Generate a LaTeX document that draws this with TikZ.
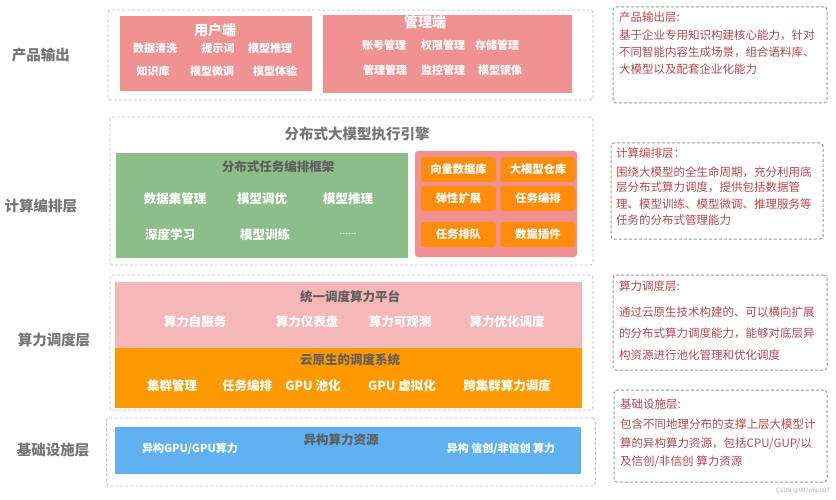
\documentclass[tikz,border=0pt]{standalone}
\usepackage{fontspec}
\setmainfont{Noto Sans CJK SC}
\definecolor{lav}{HTML}{B9B9E6}
\definecolor{graydash}{HTML}{999999}
\definecolor{salmon}{HTML}{F09292}
\definecolor{greenbox}{HTML}{8CBE8A}
\definecolor{orangesm}{HTML}{FF8C0A}
\definecolor{lightpink}{HTML}{F5B7B7}
\definecolor{orangebig}{HTML}{FF9900}
\definecolor{bluebox}{HTML}{60B1F1}
\definecolor{darkred}{HTML}{B5484C}
\definecolor{labelgray}{HTML}{767676}
\definecolor{titlegray}{HTML}{5E5E5E}
\definecolor{wmgray}{HTML}{B0B0B0}
\tikzset{
  layerbox/.style={draw=lav, dash pattern=on 3pt off 2pt, line width=0.8pt, rounded corners=3pt, inner sep=0pt},
  notebox/.style={draw=graydash, dash pattern=on 3pt off 2pt, line width=1pt, rounded corners=3pt, inner sep=0pt},
  fillbox/.style={fill=#1, inner sep=0pt},
  smallbox/.style={fill=orangesm, rounded corners=3pt, minimum width=75pt, minimum height=25pt, inner sep=0pt, text=white, font=\bfseries\fontsize{11.3}{12}\selectfont},
  item/.style={text=white, inner sep=0pt, font=\bfseries\fontsize{11}{12}\selectfont},
  bigitem/.style={text=white, inner sep=0pt, font=\bfseries\fontsize{12.5}{13}\selectfont},
  whitetitle/.style={text=white, inner sep=0pt, font=\bfseries\fontsize{14}{15}\selectfont},
  graytitle/.style={text=titlegray, inner sep=0pt, font=\bfseries\fontsize{12.5}{13}\selectfont},
  layerlabel/.style={text=labelgray, inner sep=0pt, font=\bfseries\fontsize{14.5}{15}\selectfont},
  noteline/.style={text=darkred, inner sep=0pt, anchor=west, font=\fontsize{11.5}{12}\selectfont},
}
\begin{document}
\begin{tikzpicture}[x=1pt,y=-1pt]
\useasboundingbox (0,0) rectangle (836,500);
\fill[white] (0,0) rectangle (836,500);

% ---------- left labels
\node[layerlabel] (l1) at (41,55) {产品输出};
\node[layerlabel] (l2) at (41,206) {计算编排层};
\node[layerlabel] (l3) at (54,340) {算力调度层};
\node[layerlabel] (l4) at (53,450) {基础设施层};

% ---------- layer 1
\node[layerbox, minimum width=485pt, minimum height=90pt] (L1) at (350.5,55) {};
\node[fillbox=salmon, minimum width=192pt, minimum height=75pt] (user) at (216,53.5) {};
\node[whitetitle] (usert) at (215,30) {用户端};
\node[item] (u1) at (155,48) {数据清洗};
\node[item] (u2) at (218,48) {提示词};
\node[item] (u3) at (270,48) {模型推理};
\node[item] (u4) at (153,71) {知识库};
\node[item] (u5) at (212,71) {模型微调};
\node[item] (u6) at (275,71) {模型体验};

\node[fillbox=salmon, minimum width=249pt, minimum height=78pt] (mgmt) at (447.5,54) {};
\node[whitetitle] (mgmtt) at (425,22) {管理端};
\node[item] (m1) at (384,45) {账号管理};
\node[item] (m2) at (443,45) {权限管理};
\node[item] (m3) at (497,45) {存储管理};
\node[item] (m4) at (385,70) {管理管理};
\node[item] (m5) at (443,70) {监控管理};
\node[item] (m6) at (500,70) {模型镜像};

% ---------- layer 2
\node[layerbox, minimum width=483pt, minimum height=148pt] (L2) at (351.5,191) {};
\node[text=labelgray, inner sep=0pt, font=\bfseries\fontsize{14.5}{15}\selectfont] (L2t) at (357,134) {分布式大模型执行引擎};
\node[fillbox=greenbox, minimum width=292pt, minimum height=105pt] (green) at (262,205.5) {};
\node[graytitle] (greent) at (278,167) {分布式任务编排框架};
\node[bigitem] (g1) at (175,199) {数据集管理};
\node[bigitem] (g2) at (262,199) {模型调优};
\node[bigitem] (g3) at (348,199) {模型推理};
\node[bigitem] (g4) at (170,235) {深度学习};
\node[bigitem] (g5) at (265,235) {模型训练};
\node[text=white, inner sep=0pt, font=\fontsize{10}{10}\selectfont] (g6) at (348,234) {......};

\node[fill=salmon, rounded corners=3pt, minimum width=162pt, minimum height=106pt, inner sep=0pt] (pinkbox) at (496,204) {};
\node[smallbox] (s1) at (458.5,169.5) {向量数据库};
\node[smallbox] (s2) at (538,169.5) {大模型仓库};
\node[smallbox] (s3) at (458.5,198.5) {弹性扩展};
\node[smallbox] (s4) at (538,198.5) {任务编排};
\node[smallbox] (s5) at (458.5,234.5) {任务排队};
\node[smallbox] (s6) at (538,234.5) {数据插件};

% ---------- layer 3
\node[layerbox, minimum width=483pt, minimum height=135pt] (L3) at (351.5,342.5) {};
\node[fillbox=lightpink, minimum width=467pt, minimum height=66pt] (plat) at (348.5,315) {};
\node[graytitle] (platt) at (350,297) {统一调度算力平台};
\node[bigitem] (p1) at (195,322) {算力自服务};
\node[bigitem] (p2) at (307,322) {算力仪表盘};
\node[bigitem] (p3) at (400,322) {算力可观测};
\node[bigitem] (p4) at (507,322) {算力优化调度};
\node[fillbox=orangebig, minimum width=467pt, minimum height=60pt] (cloud) at (348.5,378) {};
\node[graytitle] (cloudt) at (350,360) {云原生的调度系统};
\node[bigitem] (c1) at (172,386) {集群管理};
\node[bigitem] (c2) at (247,386) {任务编排};
\node[bigitem] (c3) at (313,386) {GPU 池化};
\node[bigitem] (c4) at (402,386) {GPU 虚拟化};
\node[bigitem] (c5) at (507,386) {跨集群算力调度};

% ---------- layer 4
\node[layerbox, minimum width=489pt, minimum height=68pt] (L4) at (351,452) {};
\node[fillbox=bluebox, minimum width=466pt, minimum height=47pt] (blue) at (348,450.5) {};
\node[graytitle] (bluet) at (341,440) {异构算力资源};
\node[item] (b1) at (190,449) {异构GPU/GPU算力};
\node[item] (b2) at (501,449) {异构 信创/非信创 算力};

% ---------- right notes
\node[notebox, minimum width=214pt, minimum height=96pt] (n1) at (720,55) {};
\node[noteline] (n1a) at (619,17) {产品输出层:};
\node[noteline] (n1b) at (619,35) {基于企业专用知识构建核心能力，针对};
\node[noteline] (n1c) at (619,52) {不同智能内容生成场景，组合语料库、};
\node[noteline] (n1d) at (619,69) {大模型以及配套企业化能力};

\node[notebox, minimum width=212pt, minimum height=96pt] (n2) at (717,191) {};
\node[noteline] (n2a) at (616,153) {计算编排层：};
\node[noteline] (n2b) at (616,172) {围绕大模型的全生命周期，充分利用底};
\node[noteline] (n2c) at (616,187) {层分布式算力调度，提供包括数据管};
\node[noteline] (n2d) at (616,204) {理、模型训练、模型微调、推理服务等};
\node[noteline] (n2e) at (616,220) {任务的分布式管理能力};

\node[notebox, minimum width=214pt, minimum height=95pt] (n3) at (720,322.5) {};
\node[noteline] (n3a) at (619,286) {算力调度层:};
\node[noteline] (n3b) at (619,312) {通过云原生技术构建的、可以横向扩展};
\node[noteline] (n3c) at (619,333) {的分布式算力调度能力，能够对底层异};
\node[noteline] (n3d) at (619,355) {构资源进行池化管理和优化调度};

\node[notebox, minimum width=213pt, minimum height=92pt] (n4) at (720.5,436) {};
\node[noteline] (n4a) at (620,404) {基础设施层:};
\node[noteline] (n4b) at (620,424) {包含不同地理分布的支撑上层大模型计};
\node[noteline] (n4c) at (620,444) {算的异构算力资源，包括CPU/GUP/以};
\node[noteline] (n4d) at (620,462) {及信创/非信创 算力资源};

\node[text=wmgray, inner sep=0pt, font=\fontsize{6}{6}\selectfont] (wm) at (803,491) {CSDN @007php007};
\end{tikzpicture}
\end{document}
